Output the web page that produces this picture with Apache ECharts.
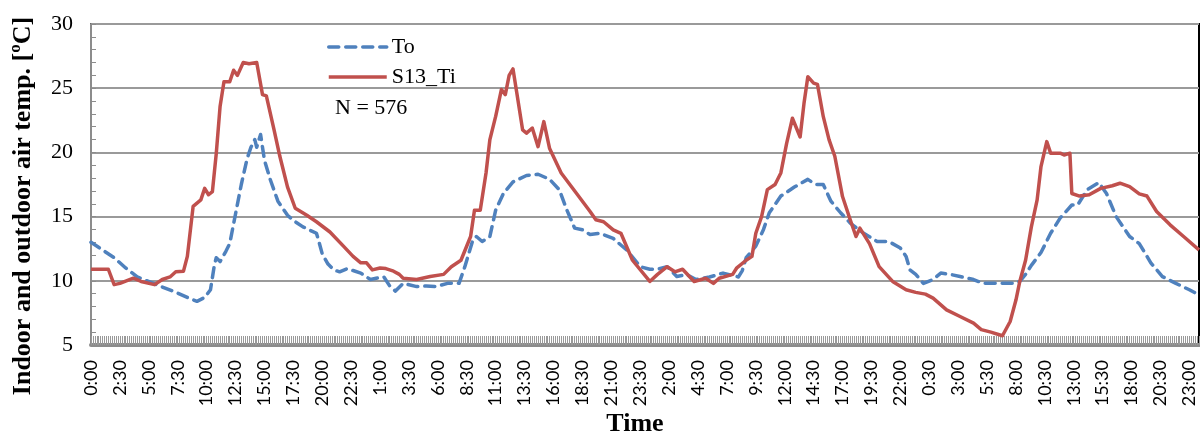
<!DOCTYPE html>
<html>
<head>
<meta charset="utf-8">
<script src="https://cdn.jsdelivr.net/npm/echarts@6/dist/echarts.min.js"></script>
<style>
  html, body { margin: 0; padding: 0; background: #fff; }
  #chart { width: 1200px; height: 437px; }
</style>
</head>
<body>
<div id="chart"></div>
<script>
// Four days of 10-minute records (576 steps). Each point is [step, temperature °C].
const stepCount = 576;

// Outdoor air temperature
const toPoints = [
  [0,13.0],[6,12.4],[12,11.8],[18,11.0],[24,10.3],[34,9.7],[44,9.1],[50,8.7],[55,8.4],[59,8.7],
  [62,9.3],[64,11.2],[65,11.8],[67,11.5],[70,12.3],[72,12.9],[75,15.2],[78,17.5],[81,19.5],[83,20.4],
  [85,21.0],[86,20.4],[88,21.4],[90,19.4],[93,17.9],[97,16.2],[102,15.1],[106,14.6],[110,14.2],[117,13.7],
  [118,13.2],[120,12.1],[123,11.3],[126,10.85],[129,10.7],[133,10.95],[136,10.8],[140,10.6],[145,10.1],[148,10.2],
  [152,10.3],[155,9.6],[158,9.2],[162,9.8],[169,9.55],[174,9.6],[179,9.55],[185,9.8],[191,9.8],[194,11.1],
  [198,13.1],[200,13.45],[203,13.06],[207,13.45],[210,15.5],[214,16.8],[219,17.7],[226,18.2],[232,18.3],[238,17.9],
  [243,17.1],[247,15.5],[251,14.1],[255,13.97],[259,13.6],[264,13.7],[271,13.3],[278,12.4],[285,11.1],[290,10.9],
  [294,10.9],[299,11.1],[304,10.33],[309,10.5],[314,10.1],[321,10.3],[328,10.6],[336,10.3],[338,10.8],[340,11.8],
  [345,12.7],[349,14.0],[352,15.3],[358,16.6],[365,17.3],[372,17.9],[376,17.5],[380,17.5],[384,16.2],[389,15.3],
  [394,14.5],[401,13.7],[408,13.06],[414,13.06],[420,12.55],[423,11.9],[425,10.85],[428,10.5],[432,9.8],[437,10.1],
  [441,10.6],[446,10.5],[451,10.33],[458,10.1],[463,9.8],[472,9.8],[479,9.8],[482,9.95],[485,10.5],[488,11.2],
  [493,12.2],[498,13.7],[503,14.9],[509,15.9],[512,15.9],[517,17.1],[523,17.65],[527,16.8],[532,15.0],[539,13.45],
  [544,12.9],[550,11.4],[556,10.33],[563,9.8],[570,9.3],[575,8.9]
];

// Indoor air temperature, sensor S13
const tiPoints = [
  [0,10.9],[7,10.9],[9,10.9],[12,9.7],[15,9.8],[22,10.2],[26,9.95],[33,9.7],[37,10.1],[41,10.3],
  [44,10.7],[48,10.75],[50,11.9],[53,15.8],[57,16.3],[59,17.2],[61,16.7],[63,16.95],[65,19.9],[67,23.6],
  [69,25.5],[72,25.5],[74,26.4],[76,26.0],[79,27.0],[82,26.9],[86,27.0],[89,24.5],[91,24.4],[95,21.75],
  [98,19.7],[102,17.3],[106,15.65],[112,15.1],[117,14.6],[124,13.8],[131,12.7],[136,11.9],[140,11.4],[143,11.4],
  [146,10.85],[150,11.0],[153,10.95],[157,10.75],[160,10.5],[162,10.2],[169,10.1],[176,10.33],[183,10.5],[187,11.1],
  [192,11.6],[197,13.45],[199,15.5],[202,15.5],[205,18.4],[207,21.0],[210,22.8],[213,24.9],[215,24.5],[217,26.0],
  [219,26.5],[221,24.6],[224,21.75],[226,21.5],[229,21.9],[232,20.45],[235,22.4],[238,20.3],[244,18.4],[252,16.8],
  [259,15.4],[262,14.75],[266,14.6],[271,13.97],[275,13.7],[281,11.6],[290,9.95],[294,10.5],[299,11.1],[303,10.7],
  [307,10.9],[313,9.95],[319,10.2],[323,9.8],[326,10.2],[333,10.5],[335,10.98],[340,11.6],[343,11.9],[345,13.7],
  [348,15.0],[351,17.1],[355,17.5],[358,18.4],[361,20.7],[364,22.66],[368,21.2],[370,23.8],[372,25.9],[375,25.4],
  [377,25.3],[380,22.8],[383,21.0],[386,19.7],[390,16.56],[394,14.75],[397,13.45],[399,14.1],[404,12.9],[409,11.1],
  [416,9.95],[423,9.3],[428,9.1],[433,8.96],[437,8.65],[444,7.74],[451,7.22],[458,6.7],[462,6.2],[467,6.0],
  [473,5.72],[477,6.83],[480,8.5],[482,9.95],[485,11.6],[488,14.2],[491,16.3],[493,18.9],[496,20.84],[498,19.94],
  [503,19.94],[505,19.8],[508,19.94],[509,16.8],[513,16.6],[518,16.7],[524,17.2],[530,17.4],[534,17.6],[539,17.34],
  [544,16.77],[548,16.6],[553,15.4],[560,14.36],[567,13.45],[575,12.4]
];

// Time labels, one every 15 steps (2 h 30 min)
const timeLabels = [
  '0:00','2:30','5:00','7:30','10:00','12:30','15:00','17:30','20:00','22:30',
  '1:00','3:30','6:00','8:30','11:00','13:30','16:00','18:30','21:00','23:30',
  '2:00','4:30','7:00','9:30','12:00','14:30','17:00','19:30','22:00',
  '0:30','3:00','5:30','8:00','10:30','13:00','15:30','18:00','20:30','23:00'
];
const labelStep = 15;

const seriesNames = ['To', 'S13_Ti'];
const sampleNote = 'N = 576';

const serif = '"Liberation Serif", "Times New Roman", serif';
const chart = echarts.init(document.getElementById('chart'), null, { renderer: 'canvas' });

chart.setOption({
  animation: false,
  backgroundColor: '#fff',
  grid: {
    left: 91, right: 1, top: 24, bottom: 92,
    show: true, borderColor: '#000', borderWidth: 2, backgroundColor: 'transparent'
  },
  legend: {
    left: 327, top: 36, orient: 'vertical', padding: 0,
    itemWidth: 58, itemHeight: 14, itemGap: 8,
    lineStyle: { width: 3.5 },
    itemStyle: { opacity: 0 },
    textStyle: { fontFamily: serif, fontSize: 22, color: '#000' },
    data: seriesNames
  },
  xAxis: {
    type: 'value', min: 0, max: stepCount - 1, interval: labelStep,
    splitLine: { show: false },
    axisLine: { show: true, onZero: false, lineStyle: { color: '#8c8c8c', width: 4 } },
    axisTick: { show: true, inside: true, length: 9, lineStyle: { color: '#999', width: 1 } },
    minorTick: { show: true, splitNumber: labelStep, length: 9, lineStyle: { color: '#999', width: 1 } },
    axisLabel: {
      rotate: 90, margin: 15, fontFamily: 'Lato, "Open Sans", sans-serif', fontSize: 18, color: '#000',
      showMaxLabel: false,
      formatter: v => (v % labelStep === 0 ? (timeLabels[v / labelStep] || '') : '')
    }
  },
  yAxis: {
    type: 'value', min: 5, max: 30, interval: 5,
    axisLine: { show: true, lineStyle: { color: '#8c8c8c', width: 2 } },
    axisTick: { show: true, inside: true, length: 5, lineStyle: { color: '#8c8c8c', width: 1 } },
    minorTick: { show: true, splitNumber: 5, length: 5, lineStyle: { color: '#8c8c8c', width: 1 } },
    splitLine: { show: true, lineStyle: { color: '#9a9a9a', width: 2 } },
    axisLabel: { margin: 18, fontFamily: serif, fontSize: 22, color: '#000' }
  },
  graphic: [
    {
      type: 'text', x: 23, y: 206, rotation: Math.PI / 2,
      style: {
        text: 'Indoor and outdoor air temp. [ºC]', fontFamily: serif, fontWeight: 'bold',
        fontSize: 26, fill: '#000', align: 'center', verticalAlign: 'middle'
      }
    },
    {
      type: 'text', x: 635, y: 424,
      style: {
        text: 'Time', fontFamily: serif, fontWeight: 'bold', fontSize: 26,
        fill: '#000', align: 'center', verticalAlign: 'middle'
      }
    },
    {
      type: 'text', x: 335, y: 108,
      style: {
        text: sampleNote, fontFamily: serif, fontSize: 22, fill: '#000',
        align: 'left', verticalAlign: 'middle'
      }
    }
  ],
  series: [
    {
      name: seriesNames[0], type: 'line', data: toPoints,
      symbol: 'none', showSymbol: false, smooth: false,
      itemStyle: { color: '#4F81BD' },
      lineStyle: { color: '#4F81BD', width: 3.5, type: [10, 7], cap: 'round', join: 'round' },
      z: 2
    },
    {
      name: seriesNames[1], type: 'line', data: tiPoints,
      symbol: 'none', showSymbol: false, smooth: false,
      itemStyle: { color: '#C0504D' },
      lineStyle: { color: '#C0504D', width: 3.5, join: 'round' },
      z: 3
    }
  ]
});
</script>
</body>
</html>
